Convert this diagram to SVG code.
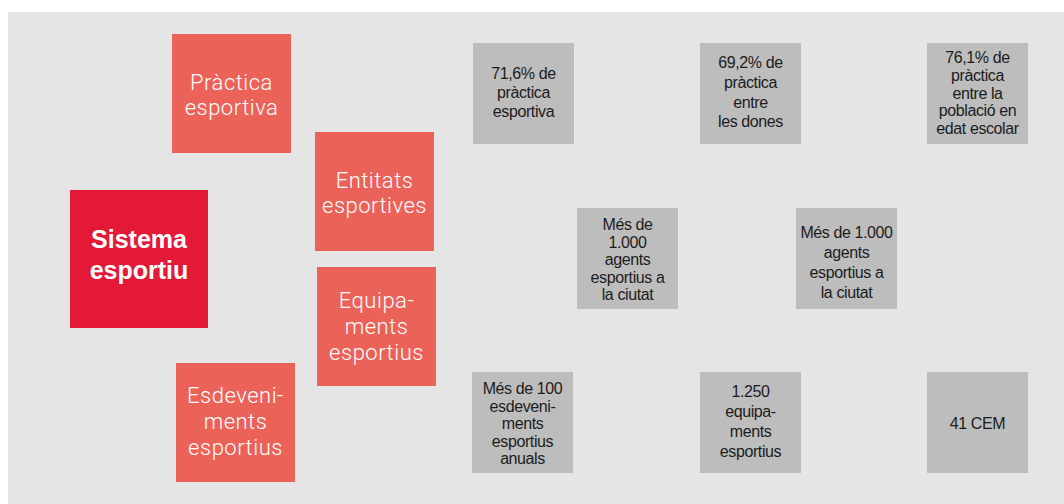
<svg xmlns="http://www.w3.org/2000/svg" width="1064" height="504" viewBox="0 0 1064 504">
<style>
.bg{fill:#e5e5e5}
.main{fill:#e31937}
.cat{fill:#eb6259}
.fact{fill:#bdbdbd}
.tmain{font-family:"Liberation Sans",Arial,sans-serif;font-weight:bold;font-size:25px;fill:#ffffff;text-anchor:middle}
.tcat{font-family:Roboto,"Liberation Sans",sans-serif;font-weight:300;font-size:22px;letter-spacing:0.5px;fill:#ffffff;text-anchor:middle}
.tfact{font-family:"Liberation Sans",Arial,sans-serif;font-size:16px;letter-spacing:-0.4px;fill:#1c1c1c;text-anchor:middle}
</style>
<rect class="bg" x="8" y="12" width="1056" height="492"/>
<g id="connectors"/>
<g id="sistema">
<rect class="main" x="70" y="190" width="138" height="138"/>
<text class="tmain" x="139" y="248">Sistema</text>
<text class="tmain" x="139" y="279">esportiu</text>
</g>
<g id="practica">
<rect class="cat" x="172" y="34" width="119" height="119"/>
<text class="tcat" x="231.5" y="89.5">Pràctica</text>
<text class="tcat" x="231.5" y="114.5">esportiva</text>
</g>
<g id="entitats">
<rect class="cat" x="315" y="132" width="119" height="119"/>
<text class="tcat" x="374.5" y="187.5">Entitats</text>
<text class="tcat" x="374.5" y="212.5">esportives</text>
</g>
<g id="equipaments">
<rect class="cat" x="317" y="267" width="119" height="119"/>
<text class="tcat" x="376.5" y="307.5">Equipa-</text>
<text class="tcat" x="376.5" y="333.5">ments</text>
<text class="tcat" x="376.5" y="359.5">esportius</text>
</g>
<g id="esdeveniments">
<rect class="cat" x="176" y="363" width="119" height="119"/>
<text class="tcat" x="235.5" y="403">Esdeveni-</text>
<text class="tcat" x="235.5" y="429">ments</text>
<text class="tcat" x="235.5" y="455">esportius</text>
</g>
<g id="fact-practica">
<rect class="fact" x="473" y="43" width="101" height="101"/>
<text class="tfact" x="523.5" y="78.5">71,6% de</text>
<text class="tfact" x="523.5" y="97.5">pràctica</text>
<text class="tfact" x="523.5" y="116.5">esportiva</text>
</g>
<g id="fact-dones">
<rect class="fact" x="700" y="43" width="101" height="101"/>
<text class="tfact" x="750.5" y="68">69,2% de</text>
<text class="tfact" x="750.5" y="88">pràctica</text>
<text class="tfact" x="750.5" y="107.5">entre</text>
<text class="tfact" x="750.5" y="127">les dones</text>
</g>
<g id="fact-escolar">
<rect class="fact" x="927" y="43" width="101" height="101"/>
<text class="tfact" x="977.5" y="62.5">76,1% de</text>
<text class="tfact" x="977.5" y="80.5">pràctica</text>
<text class="tfact" x="977.5" y="98.5">entre la</text>
<text class="tfact" x="977.5" y="116">població en</text>
<text class="tfact" x="977.5" y="133.5">edat escolar</text>
</g>
<g id="fact-agents-1">
<rect class="fact" x="577" y="208" width="101" height="101"/>
<text class="tfact" x="627.5" y="230">Més de</text>
<text class="tfact" x="627.5" y="247.5">1.000</text>
<text class="tfact" x="627.5" y="265">agents</text>
<text class="tfact" x="627.5" y="282.5">esportius a</text>
<text class="tfact" x="627.5" y="300">la ciutat</text>
</g>
<g id="fact-agents-2">
<rect class="fact" x="796" y="208" width="101" height="101"/>
<text class="tfact" x="846.5" y="238">Més de 1.000</text>
<text class="tfact" x="846.5" y="257.5">agents</text>
<text class="tfact" x="846.5" y="277.5">esportius a</text>
<text class="tfact" x="846.5" y="297.5">la ciutat</text>
</g>
<g id="fact-esdeveniments">
<rect class="fact" x="472" y="372" width="101" height="101"/>
<text class="tfact" x="522.5" y="394">Més de 100</text>
<text class="tfact" x="522.5" y="411.5">esdeveni-</text>
<text class="tfact" x="522.5" y="429">ments</text>
<text class="tfact" x="522.5" y="446.5">esportius</text>
<text class="tfact" x="522.5" y="464">anuals</text>
</g>
<g id="fact-equipaments">
<rect class="fact" x="700" y="372" width="101" height="101"/>
<text class="tfact" x="750.5" y="397">1.250</text>
<text class="tfact" x="750.5" y="417">equipa-</text>
<text class="tfact" x="750.5" y="437">ments</text>
<text class="tfact" x="750.5" y="457">esportius</text>
</g>
<g id="fact-cem">
<rect class="fact" x="927" y="372" width="101" height="101"/>
<text class="tfact" x="977.5" y="429">41 CEM</text>
</g>
</svg>
